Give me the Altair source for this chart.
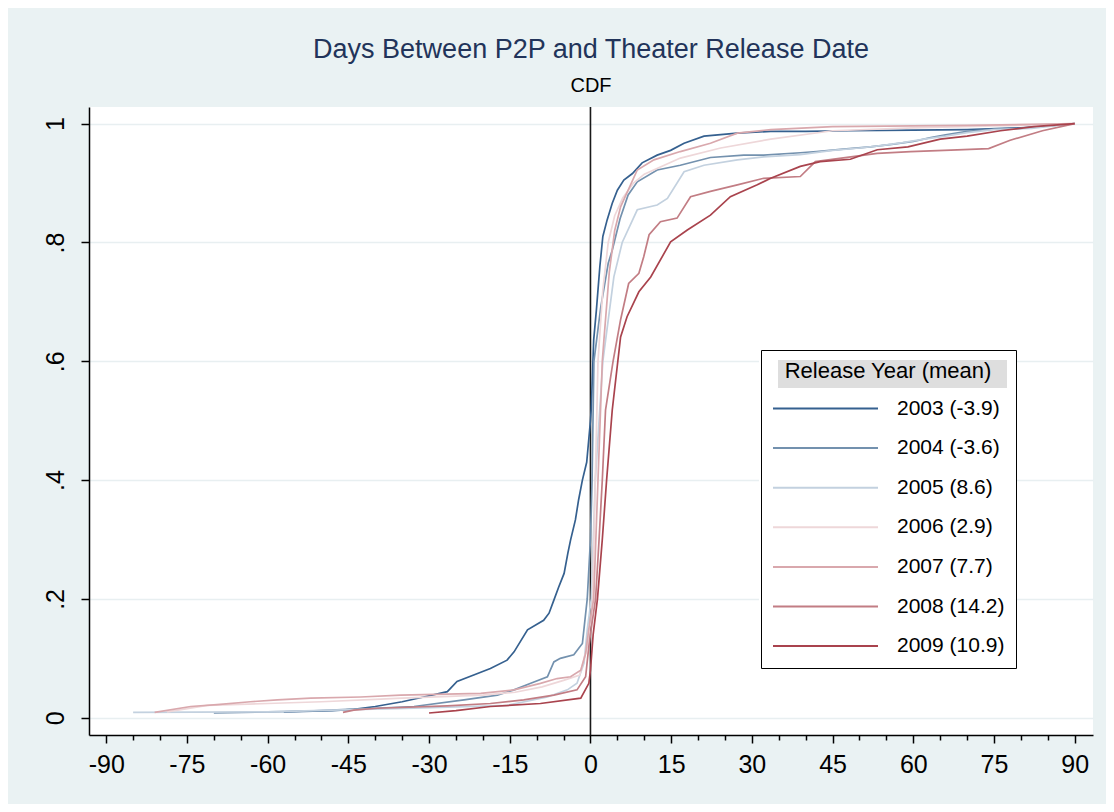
import altair as alt
import pandas as pd

# ---------------- data ----------------
series_labels = ["2003 (-3.9)", "2004 (-3.6)", "2005 (8.6)", "2006 (2.9)",
                 "2007 (7.7)", "2008 (14.2)", "2009 (10.9)"]
series_colors = ["#35608f", "#7391ae", "#c3d1df", "#eed7d9",
                 "#d9a8ad", "#c27d84", "#a9434d"]

days_2003 = [-57, -48, -44, -40, -35, -31, -26.6, -24.8, -21.7, -18.6, -15.5, -14.2,
             -11.7, -8.7, -7.7, -6.8, -5.9, -4.9, -4.2, -3.7, -2.8, -2.2, -1.5, -0.7,
             -0.3, 0, 0.15, 0.6, 1.1, 1.75, 2.3, 3.1, 4.05, 5.0, 6.2, 7.8,
             9.6, 12.4, 14.9, 17.4, 21.1, 27.3, 33.5, 40, 48, 60, 70, 80, 85, 90]
cdf_2003 = [0.010, 0.012, 0.014, 0.019, 0.027, 0.035, 0.044, 0.061, 0.072, 0.083, 0.097, 0.111,
            0.148, 0.164, 0.176, 0.198, 0.220, 0.243, 0.277, 0.299, 0.333, 0.367, 0.400, 0.430,
            0.470, 0.500, 0.520, 0.636, 0.686, 0.760, 0.810, 0.838, 0.866, 0.888, 0.905, 0.916,
            0.934, 0.947, 0.955, 0.967, 0.979, 0.984, 0.987, 0.987, 0.988, 0.989, 0.990, 0.993,
            0.996, 1.0]

days_2004 = [-70, -60, -53.5, -45, -40, -32.8, -23.5, -17.3, -14.2, -11.1, -8.0, -6.8,
             -5.6, -3.1, -1.5, -0.6, 0, 0.3, 0.64, 1.9, 3.3, 4.05, 5.5, 7.0,
             8.7, 12.4, 16.7, 22.3, 28.5, 32.2, 39, 42, 47, 52, 56, 60,
             63, 66, 70, 75, 80, 85, 90]
cdf_2004 = [0.008, 0.010, 0.011, 0.014, 0.016, 0.019, 0.030, 0.038, 0.047, 0.058, 0.069, 0.094,
            0.100, 0.106, 0.125, 0.200, 0.300, 0.400, 0.600, 0.690, 0.765, 0.787, 0.840, 0.880,
            0.902, 0.922, 0.930, 0.943, 0.947, 0.947, 0.951, 0.953, 0.957, 0.961, 0.965, 0.970,
            0.976, 0.981, 0.987, 0.991, 0.992, 0.996, 1.0]

days_2005 = [-85, -60, -48, -32.8, -15.5, -8.0, -4.3, -2.5, -1.2, -0.6, 0.15, 0.9,
             2.3, 4.35, 5.9, 8.7, 12.4, 14.3, 17.4, 21.1, 27.3, 32.2, 39, 45,
             50, 54, 58, 62, 66, 70, 75, 82, 86, 90]
cdf_2005 = [0.009, 0.010, 0.013, 0.016, 0.021, 0.035, 0.047, 0.058, 0.092, 0.148, 0.200, 0.400,
            0.600, 0.742, 0.800, 0.855, 0.863, 0.874, 0.919, 0.930, 0.939, 0.944, 0.948, 0.955,
            0.959, 0.963, 0.968, 0.974, 0.979, 0.985, 0.990, 0.992, 0.996, 1.0]

days_2006 = [-78.7, -71.2, -60, -50, -40, -35, -20, -14, -9, -5, -2, -0.6,
             0, 0.4, 0.9, 1.4, 2.3, 3.3, 4.5, 6, 8, 10, 16.7, 24.2,
             33.5, 45, 60, 75, 90]
cdf_2006 = [0.010, 0.021, 0.024, 0.027, 0.031, 0.033, 0.038, 0.043, 0.052, 0.063, 0.072, 0.120,
            0.160, 0.200, 0.400, 0.600, 0.720, 0.800, 0.845, 0.875, 0.900, 0.915, 0.942, 0.959,
            0.974, 0.988, 0.993, 0.996, 1.0]

days_2007 = [-81, -74.3, -69.4, -63.2, -58.2, -52, -42.7, -35.3, -20.4, -14.2, -9.3, -6.2,
             -3.7, -1.8, -0.9, -0.3, 0.6, 1.4, 2.2, 2.5, 3.5, 4.5, 5.6, 8.7,
             11.8, 16.7, 22.3, 27.3, 33.5, 45, 70, 90]
cdf_2007 = [0.009, 0.019, 0.022, 0.027, 0.030, 0.033, 0.035, 0.038, 0.041, 0.047, 0.058, 0.066,
            0.069, 0.080, 0.108, 0.150, 0.200, 0.400, 0.600, 0.636, 0.750, 0.820, 0.860, 0.922,
            0.939, 0.953, 0.967, 0.984, 0.990, 0.995, 0.997, 1.0]

days_2008 = [-46, -44, -39.6, -26.6, -18.6, -12.4, -6.8, -2.5, -0.9, -0.3, 0.3, 0.95,
             1.6, 2.2, 2.8, 4.2, 5.6, 7.1, 9.0, 9.9, 10.9, 13.0, 16.1, 18.6,
             22.3, 27.3, 32.2, 39, 41.8, 53.3, 59.5, 68.2, 74, 78, 84, 90]
cdf_2008 = [0.009, 0.013, 0.016, 0.020, 0.024, 0.030, 0.038, 0.047, 0.069, 0.120, 0.160, 0.200,
            0.300, 0.400, 0.518, 0.600, 0.670, 0.731, 0.748, 0.776, 0.813, 0.835, 0.841, 0.877,
            0.886, 0.897, 0.908, 0.911, 0.936, 0.950, 0.953, 0.956, 0.958, 0.972, 0.988, 1.0]

days_2009 = [-30, -25, -18.6, -9.3, -1.8, -0.3, 0, 0.5, 1.3, 2.2, 3.0, 4.05,
             5.6, 6.8, 9.0, 11.2, 14.9, 18.0, 22.3, 26.0, 31.0, 33.5, 39, 42.7,
             48.3, 53.3, 59, 65, 70, 76.2, 82.4, 90]
cdf_2009 = [0.008, 0.012, 0.019, 0.024, 0.033, 0.058, 0.080, 0.140, 0.200, 0.300, 0.400, 0.518,
            0.641, 0.675, 0.717, 0.742, 0.801, 0.821, 0.846, 0.877, 0.897, 0.908, 0.928, 0.936,
            0.940, 0.956, 0.961, 0.974, 0.979, 0.988, 0.995, 1.0]

x_major_ticks = [-90, -75, -60, -45, -30, -15, 0, 15, 30, 45, 60, 75, 90]
x_minor_ticks = [-85, -80, -70, -65, -55, -50, -40, -35, -25, -20, -10, -5,
                 5, 10, 20, 25, 35, 40, 50, 55, 65, 70, 80, 85]
y_ticks = [0, 0.2, 0.4, 0.6, 0.8, 1.0]

all_days = [days_2003, days_2004, days_2005, days_2006, days_2007, days_2008, days_2009]
all_cdf = [cdf_2003, cdf_2004, cdf_2005, cdf_2006, cdf_2007, cdf_2008, cdf_2009]

rows = []
for s, (lab, ds, cs) in enumerate(zip(series_labels, all_days, all_cdf)):
    for j, (d, c) in enumerate(zip(ds, cs)):
        rows.append({"series": lab, "s": s, "idx": j, "days": d, "cdf": c})
df = pd.DataFrame(rows)

FONT = "Liberation Sans"

xscale = alt.Scale(domain=[-93.2, 93.4], nice=False, zero=False)
yscale = alt.Scale(domain=[-0.029, 1.028], nice=False, zero=False)

# zero reference line (also carries the minor x ticks)
zero_line = alt.Chart(pd.DataFrame({"days": [0]})).mark_rule(
    color="#1a1a1a", strokeWidth=1.6
).encode(
    x=alt.X("days:Q", scale=xscale,
            axis=alt.Axis(values=x_minor_ticks, orient="bottom", title=None,
                          labels=False, domain=False, grid=False,
                          tickSize=5, tickColor="black", tickWidth=1.5))
)

lines = alt.Chart(df).mark_line(strokeWidth=1.7).encode(
    x=alt.X("days:Q", scale=xscale,
            axis=alt.Axis(values=x_major_ticks, orient="bottom", title=None,
                          grid=False, tickSize=8, tickColor="black", tickWidth=1.5,
                          domainColor="black", domainWidth=1.5,
                          labelFont=FONT, labelFontSize=25, labelColor="black",
                          labelPadding=9, labelFlush=False,
                          labelExpr="toString(datum.value)")),
    y=alt.Y("cdf:Q", scale=yscale,
            axis=alt.Axis(values=y_ticks, title=None, grid=True,
                          gridColor="#e8eff1", gridWidth=1.6,
                          tickSize=8, tickColor="black", tickWidth=1.5,
                          domainColor="black", domainWidth=1.5,
                          labelFont=FONT, labelFontSize=25, labelColor="black",
                          labelAngle=270, labelAlign="center",
                          labelBaseline="alphabetic", labelPadding=18,
                          labelFlush=False,
                          labelExpr="datum.value == 0 ? '0' : (datum.value == 1 ? '1' : '.' + format(datum.value * 10, '.0f'))")),
    color=alt.Color("series:N",
                    scale=alt.Scale(domain=series_labels, range=series_colors),
                    legend=alt.Legend(title="Release Year (mean)", orient="none",
                                      legendX=672, legendY=243,
                                      fillColor="transparent", strokeColor="black",
                                      padding=11, symbolType="stroke",
                                      symbolSize=11025, symbolStrokeWidth=2,
                                      clipHeight=21, labelOffset=18,
                                      labelFont=FONT, labelFontSize=21,
                                      labelColor="black", labelLimit=300,
                                      titleFont=FONT, titleFontSize=22,
                                      titleFontWeight="normal", titleColor="black",
                                      titleAnchor="middle", titlePadding=15,
                                      titleLimit=400, rowPadding=17.6)),
    order=alt.Order("idx:Q"),
    detail="s:O",
)

# legend backdrop: white box and light grey strip behind the legend title
legend_box = alt.Chart(pd.DataFrame({"k": [0]})).mark_rect(
    fill="white", stroke=None
).encode(x=alt.value(670), x2=alt.value(927), y=alt.value(241), y2=alt.value(558))

legend_title_strip = alt.Chart(pd.DataFrame({"k": [0]})).mark_rect(
    fill="#dedede", stroke=None
).encode(x=alt.value(689), x2=alt.value(918), y=alt.value(253), y2=alt.value(281))

chart = alt.layer(zero_line, lines, legend_box, legend_title_strip).resolve_axis(
    x="independent"
).properties(
    width=1004,
    height=628,
    title=alt.TitleParams(
        text="Days Between P2P and Theater Release Date",
        subtitle="CDF",
        anchor="middle",
        frame="group",
        font=FONT, fontSize=27, fontWeight="normal", color="#22345a",
        subtitleFont=FONT, subtitleFontSize=20, subtitleColor="black",
        subtitlePadding=12, offset=9,
    ),
    padding={"left": 81, "top": 99, "right": 13, "bottom": 69},
    autosize=alt.AutoSizeParams(type="none"),
    background="#eaf2f3",
).configure_view(fill="white", strokeWidth=0)

chart.save("out.html", embed_options={"renderer": "svg", "actions": False})
